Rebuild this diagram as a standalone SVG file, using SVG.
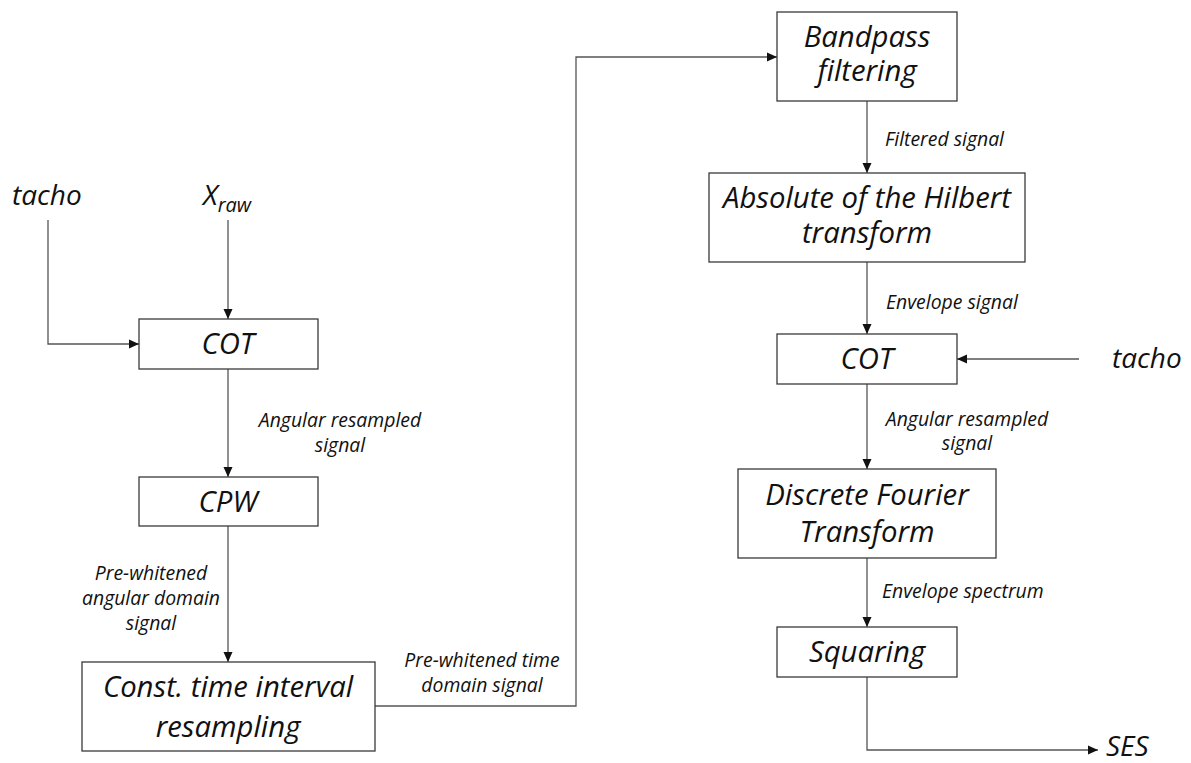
<svg xmlns="http://www.w3.org/2000/svg" width="1191" height="763" viewBox="0 0 1191 763">
  <style>
    .box { fill: #ffffff; stroke: #3a3a3a; stroke-width: 1.3; }
    .node { font-family: "Open Sans", "Liberation Sans", sans-serif; font-style: italic; font-size: 29.3px; fill: #111111; text-anchor: middle; }
    .io { font-family: "Open Sans", "Liberation Sans", sans-serif; font-style: italic; font-size: 28px; fill: #111111; }
    .lbl { font-family: "Open Sans", "Liberation Sans", sans-serif; font-style: italic; font-size: 19.4px; fill: #111111; }
    .mid { text-anchor: middle; }
    .wire { fill: none; stroke: #555555; stroke-width: 1.3; }
  </style>
  <defs>
    <marker id="arrow" viewBox="0 0 10 10" refX="10" refY="5" markerWidth="10" markerHeight="10" markerUnits="userSpaceOnUse" orient="auto">
      <path d="M0,0.5 L10,5 L0,9.5 Z" fill="#111111"/>
    </marker>
  </defs>

  <!-- inputs and output -->
  <g id="tacho-left"><text class="io" x="12" y="205">tacho</text></g>
  <g id="x-raw"><text class="io" x="203" y="205">X<tspan font-size="20" dy="7">raw</tspan></text></g>
  <g id="tacho-right"><text class="io" x="1112" y="368">tacho</text></g>
  <g id="ses"><text class="io" x="1106" y="756">SES</text></g>

  <!-- connectors -->
  <g id="connectors">
    <path class="wire" d="M48,220 V344 H139" marker-end="url(#arrow)"/>
    <path class="wire" d="M228,220 V319" marker-end="url(#arrow)"/>
    <path class="wire" d="M228,369 V477" marker-end="url(#arrow)"/>
    <path class="wire" d="M228,526 V662" marker-end="url(#arrow)"/>
    <path class="wire" d="M375,706 H576 V57 H777" marker-end="url(#arrow)"/>
    <path class="wire" d="M867,101 V173" marker-end="url(#arrow)"/>
    <path class="wire" d="M867,262 V334" marker-end="url(#arrow)"/>
    <path class="wire" d="M1079,359 H957" marker-end="url(#arrow)"/>
    <path class="wire" d="M867,384 V469" marker-end="url(#arrow)"/>
    <path class="wire" d="M867,558 V627" marker-end="url(#arrow)"/>
    <path class="wire" d="M867,677 V750 H1098" marker-end="url(#arrow)"/>
  </g>

  <!-- connector labels -->
  <g id="labels">
    <text class="lbl mid" x="340" y="427">Angular resampled</text>
    <text class="lbl mid" x="340" y="452">signal</text>
    <text class="lbl mid" x="151" y="580">Pre-whitened</text>
    <text class="lbl mid" x="151" y="605">angular domain</text>
    <text class="lbl mid" x="151" y="630">signal</text>
    <text class="lbl mid" x="482" y="667">Pre-whitened time</text>
    <text class="lbl mid" x="482" y="692">domain signal</text>
    <text class="lbl" x="885" y="146">Filtered signal</text>
    <text class="lbl" x="886" y="309">Envelope signal</text>
    <text class="lbl mid" x="967" y="426">Angular resampled</text>
    <text class="lbl mid" x="967" y="450">signal</text>
    <text class="lbl" x="882" y="598">Envelope spectrum</text>
  </g>

  <!-- left chain -->
  <g id="cot-1">
    <rect class="box" x="139" y="319" width="179" height="50"/>
    <text class="node" x="228" y="354">COT</text>
  </g>
  <g id="cpw">
    <rect class="box" x="139" y="477" width="179" height="49"/>
    <text class="node" x="228" y="512">CPW</text>
  </g>
  <g id="const-time">
    <rect class="box" x="82" y="662" width="293" height="89"/>
    <text class="node" x="228" y="697">Const. time interval</text>
    <text class="node" x="228" y="737">resampling</text>
  </g>

  <!-- right chain -->
  <g id="bandpass">
    <rect class="box" x="777" y="12" width="180" height="89"/>
    <text class="node" x="867" y="47">Bandpass</text>
    <text class="node" x="867" y="81">filtering</text>
  </g>
  <g id="hilbert">
    <rect class="box" x="709" y="173" width="316" height="89"/>
    <text class="node" x="867" y="208">Absolute of the Hilbert</text>
    <text class="node" x="867" y="243">transform</text>
  </g>
  <g id="cot-2">
    <rect class="box" x="777" y="334" width="180" height="50"/>
    <text class="node" x="867" y="369">COT</text>
  </g>
  <g id="dft">
    <rect class="box" x="738" y="469" width="258" height="89"/>
    <text class="node" x="867" y="505">Discrete Fourier</text>
    <text class="node" x="867" y="542">Transform</text>
  </g>
  <g id="squaring">
    <rect class="box" x="777" y="627" width="180" height="50"/>
    <text class="node" x="867" y="662">Squaring</text>
  </g>
</svg>
